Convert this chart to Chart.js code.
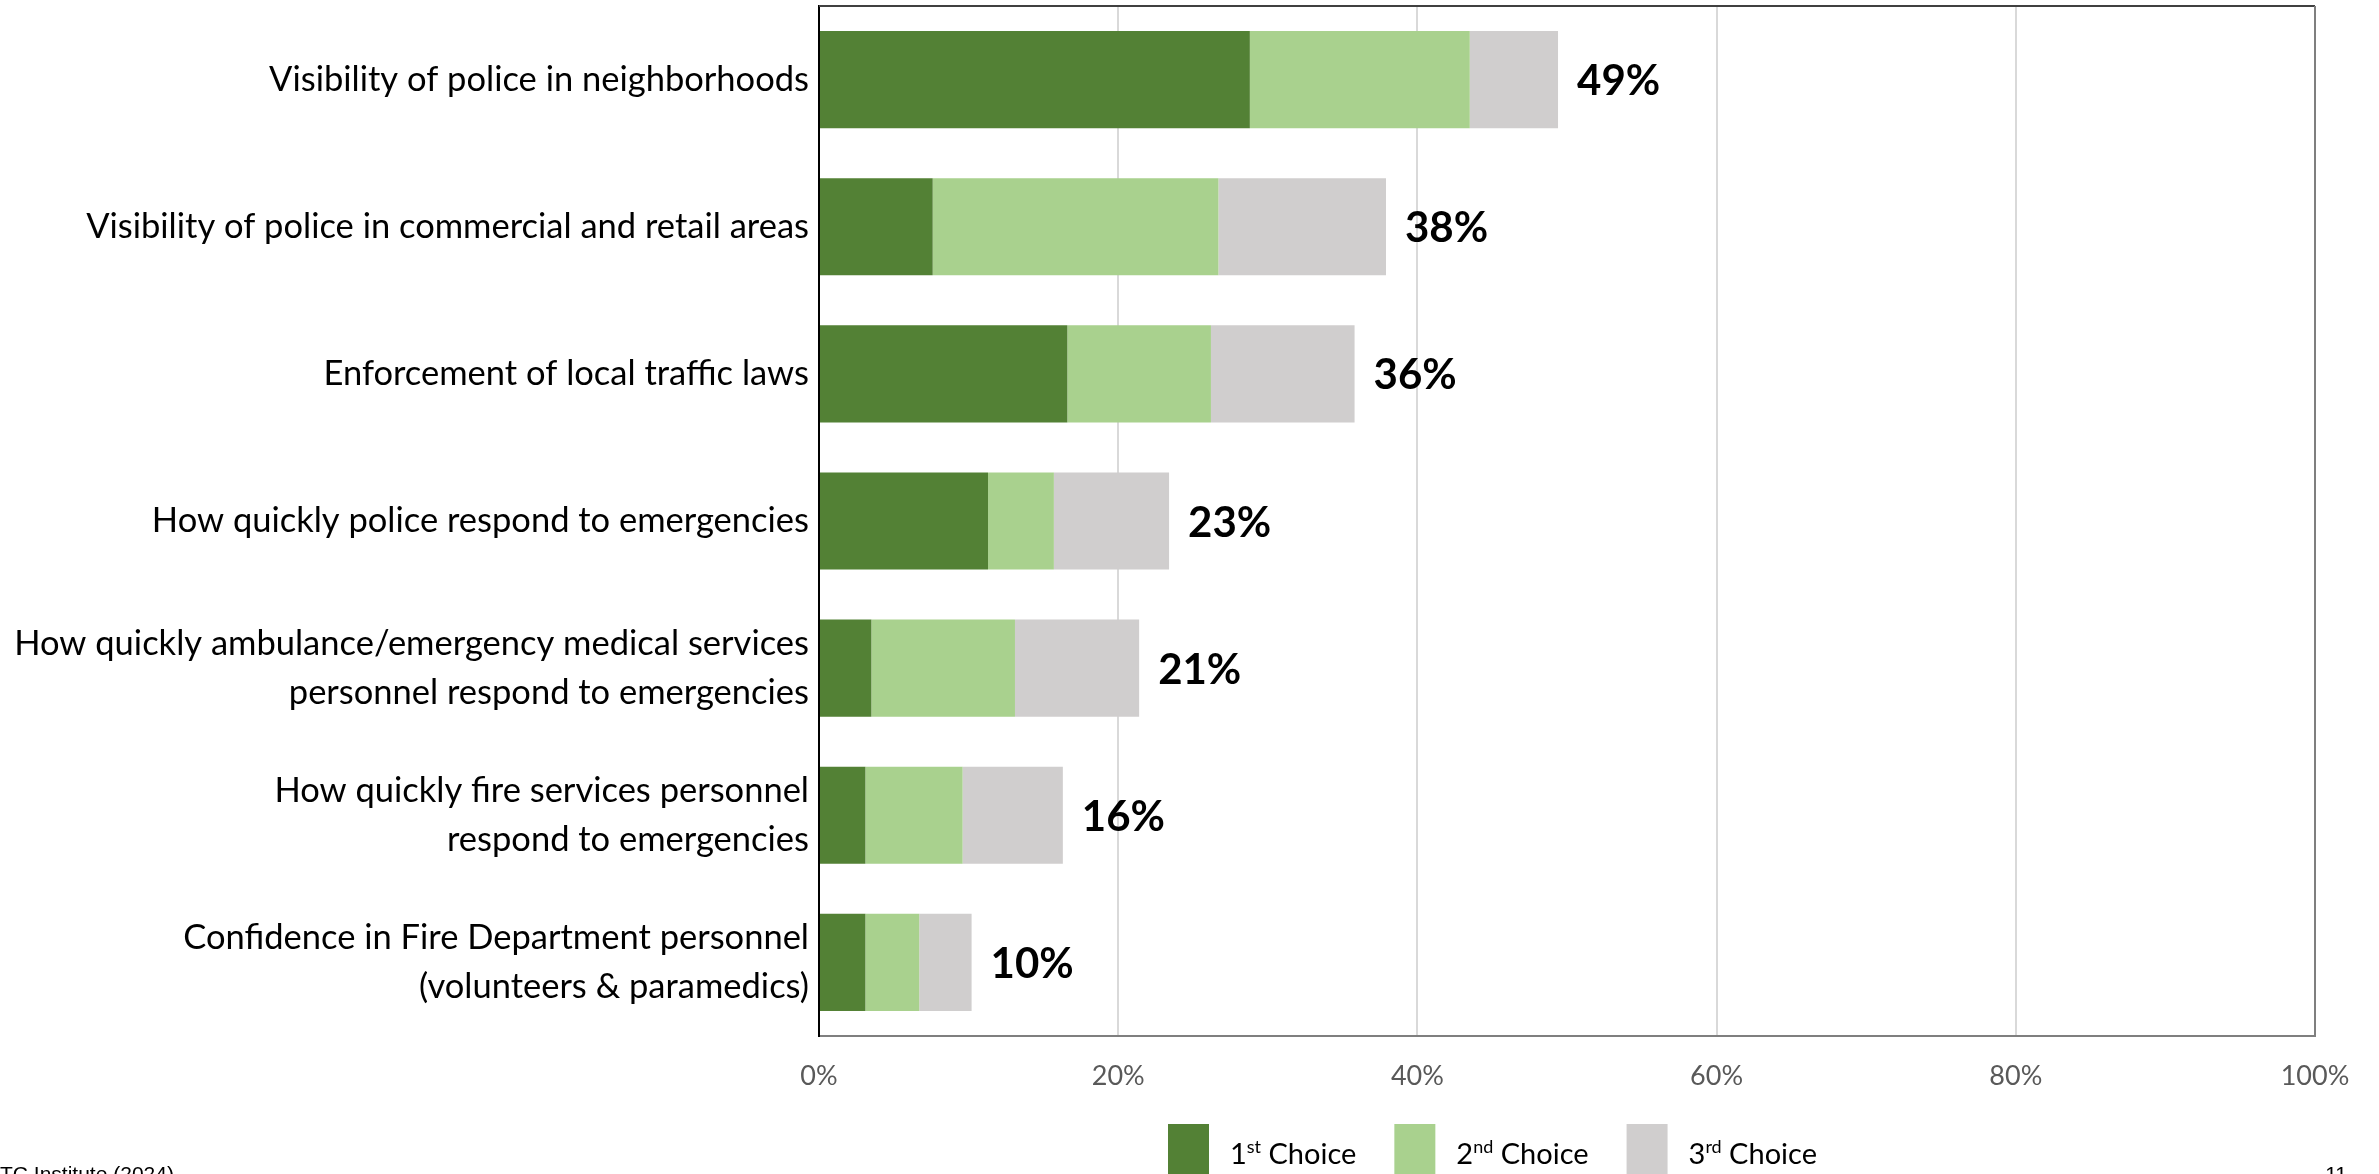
<!DOCTYPE html>
<html>
<head>
<meta charset="utf-8">
<title>Public safety priorities</title>
<script src="https://cdn.jsdelivr.net/npm/chart.js@4.4.1/dist/chart.umd.min.js"></script>
<style>
  html, body { margin: 0; padding: 0; background: #fff; }
  canvas { display: block; }
</style>
</head>
<body>
<canvas id="myChart" width="2379" height="1174"></canvas>
<script>
// categories, top to bottom
const categories = [
  "Visibility of police in neighborhoods",
  "Visibility of police in commercial and retail areas",
  "Enforcement of local traffic laws",
  "How quickly police respond to emergencies",
  ["How quickly ambulance/emergency medical services", "personnel respond to emergencies"],
  ["How quickly fire services personnel", "respond to emergencies"],
  ["Confidence in Fire Department personnel", "(volunteers & paramedics)"]
];

// percent of respondents picking each item as 1st / 2nd / 3rd choice
const firstChoice = [28.8, 7.6, 16.6, 11.3, 3.5, 3.1, 3.1];
const secondChoice = [14.7, 19.1, 9.6, 4.4, 9.6, 6.5, 3.6];
const thirdChoice = [5.9, 11.2, 9.6, 7.7, 8.3, 6.7, 3.5];

const xTicks = [0, 20, 40, 60, 80, 100];
const seriesNames = [["1", "st"], ["2", "nd"], ["3", "rd"]];
const seriesColors = ["#538135", "#A9D18E", "#D0CECE"];

const FONT = "Lato, 'Open Sans', sans-serif";

// totals printed at the end of each bar
const totals = categories.map((c, i) => firstChoice[i] + secondChoice[i] + thirdChoice[i]);

// plot frame: top and right edges (left / bottom come from the axes)
const framePlugin = {
  id: "frame",
  afterDraw(chart) {
    const { ctx, chartArea: a } = chart;
    ctx.save();
    ctx.lineWidth = 2;
    ctx.strokeStyle = "#404040";
    ctx.beginPath();
    ctx.moveTo(a.left, a.top);
    ctx.lineTo(a.right, a.top);
    ctx.stroke();
    ctx.strokeStyle = "#7f7f7f";
    ctx.beginPath();
    ctx.moveTo(a.right, a.top);
    ctx.lineTo(a.right, a.bottom);
    ctx.stroke();
    ctx.restore();
  }
};

// bold total labels
const totalsPlugin = {
  id: "totals",
  afterDatasetsDraw(chart) {
    const { ctx } = chart;
    const meta = chart.getDatasetMeta(2);
    ctx.save();
    ctx.font = "bold 42px " + FONT;
    ctx.fillStyle = "#000";
    ctx.textAlign = "left";
    ctx.textBaseline = "middle";
    meta.data.forEach((bar, i) => {
      ctx.fillText(Math.round(totals[i]) + "%", bar.x + 19, bar.y + 2);
    });
    ctx.restore();
  }
};

// legend with superscript ordinals + footer text
const legendPlugin = {
  id: "choiceLegend",
  afterDraw(chart) {
    const { ctx } = chart;
    ctx.save();
    let x = 1168;
    const boxTop = 1124;
    const baseline = 1164;
    seriesNames.forEach((name, i) => {
      ctx.fillStyle = seriesColors[i];
      ctx.fillRect(x, boxTop, 41, 60);
      let tx = x + 62;
      ctx.fillStyle = "#000";
      ctx.textAlign = "left";
      ctx.textBaseline = "alphabetic";
      ctx.font = "29px " + FONT;
      ctx.fillText(name[0], tx, baseline);
      tx += ctx.measureText(name[0]).width;
      ctx.font = "18px " + FONT;
      ctx.fillText(name[1], tx, baseline - 11);
      tx += ctx.measureText(name[1]).width;
      ctx.font = "29px " + FONT;
      ctx.fillText(" Choice", tx, baseline);
      tx += ctx.measureText(" Choice").width;
      x = tx + 38;
    });

    ctx.font = "21px 'Liberation Sans', Arial, sans-serif";
    ctx.fillStyle = "#000";
    const lead = ctx.measureText("E").width;
    ctx.fillText("ETC Institute (2024)", -lead, 1181);
    ctx.textAlign = "right";
    ctx.fillText("11", 2347, 1181);
    ctx.restore();
  }
};

const ctx = document.getElementById("myChart");
new Chart(ctx, {
  type: "bar",
  data: {
    labels: categories,
    datasets: [
      { label: "1st Choice", data: firstChoice, backgroundColor: seriesColors[0] },
      { label: "2nd Choice", data: secondChoice, backgroundColor: seriesColors[1] },
      { label: "3rd Choice", data: thirdChoice, backgroundColor: seriesColors[2] }
    ]
  },
  options: {
    indexAxis: "y",
    responsive: false,
    animation: false,
    devicePixelRatio: 1,
    barPercentage: 0.66,
    categoryPercentage: 1.0,
    layout: { padding: { top: 6, right: 64, left: 0, bottom: 0 } },
    plugins: {
      legend: { display: false },
      tooltip: { enabled: false }
    },
    scales: {
      x: {
        stacked: true,
        min: 0,
        max: 100,
        afterBuildTicks(scale) {
          scale.ticks = xTicks.map(v => ({ value: v }));
        },
        afterFit(scale) {
          scale.height = 138;
          scale.paddingLeft = 0;
          scale.paddingRight = 0;
        },
        ticks: {
          callback: v => v + "%",
          color: "#595959",
          font: { family: FONT, size: 27 },
          padding: 24
        },
        grid: { color: "#d9d9d9", lineWidth: 2, drawTicks: false },
        border: { display: true, color: "#7f7f7f", width: 2 }
      },
      y: {
        stacked: true,
        afterFit(scale) {
          scale.width = 819;
          scale.paddingTop = 0;
          scale.paddingBottom = 0;
        },
        ticks: {
          color: "#000",
          font: { family: FONT, size: 34.5, lineHeight: 1.406 },
          padding: 10
        },
        grid: { display: false, drawTicks: false },
        border: { display: true, color: "#000", width: 2 }
      }
    }
  },
  plugins: [framePlugin, totalsPlugin, legendPlugin]
});
</script>
</body>
</html>
